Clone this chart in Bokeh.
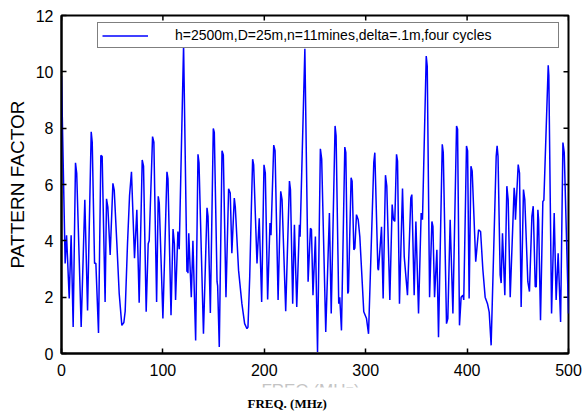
import math

from bokeh.plotting import figure
from bokeh.layouts import column
from bokeh.models import (Range1d, FixedTicker, Legend, LegendItem, Title,
                          ColumnDataSource)
from bokeh.core.properties import value
from bokeh.embed import file_html
from bokeh.resources import INLINE

# Pattern factor versus frequency (piecewise samples)
freq_mhz = [
    0, 3.6, 5.0, 7.6, 9.5, 11.5, 13.8, 15.0, 19.4, 23.0, 25.7, 29.3, 30.3, 32.6, 33.9,
    36.5, 38.8, 40.1, 43.0, 44.4, 45.7, 48.0, 50.7, 52.0, 54.6, 56.9, 59.5, 61.5, 62.8,
    65.1, 67.1, 69.0, 72.0, 74.3, 76.6, 79.6, 80.9, 83.5, 85.5, 86.5, 89.8, 91.1, 93.8,
    95.4, 96.4, 100.0, 104.0, 105.0, 108.0, 110.0, 111.3, 112.5, 114.8, 116.1, 120.4,
    123.7, 124.4, 124.7, 125.5, 128.0, 129.6, 132.3, 134.6, 135.6, 140.0, 143.5, 144.5,
    146.8, 149.7, 150.7, 153.4, 154.0, 155.6, 158.3, 159.6, 162.2, 164.8, 166.4, 168.0,
    170.4, 171.4, 174.6, 177.9, 180.6, 182.9, 183.9, 185.6, 187.2, 188.5, 189.5, 192.8,
    195.0, 197.4, 199.7, 201.0, 203.3, 205.6, 206.6, 209.3, 210.6, 213.6, 216.2, 217.5,
    221.1, 224.8, 225.8, 228.0, 229.7, 232.0, 234.6, 235.3, 240.0, 243.2, 245.5, 246.5,
    248.0, 250.4, 252.5, 255.3, 256.6, 260.6, 264.2, 266.0, 269.8, 270.8, 273.4, 274.4,
    276.1, 279.4, 280.4, 282.3, 283.0, 285.6, 286.6, 288.3, 289.3, 290.9, 292.6, 294.2,
    298.1, 300.8, 302.8, 308.0, 309.0, 312.0, 312.6, 315.6, 317.2, 319.5, 320.8, 323.8,
    326.1, 327.4, 328.7, 330.4, 331.4, 333.3, 336.3, 338.0, 341.2, 344.5, 345.5, 347.8,
    349.5, 352.1, 354.7, 356.0, 359.7, 360.7, 363.0, 365.3, 366.3, 367.9, 370.2, 371.8,
    375.5, 376.5, 379.7, 381.0, 383.3, 386.0, 389.6, 390.6, 392.5, 394.1, 395.8, 396.7,
    399.4, 400.5, 402.0, 403.8, 405.0, 408.5, 411.3, 413.3, 415.5, 417.8, 420.1, 421.8,
    423.7, 428.7, 429.6, 430.5, 432.6, 433.6, 434.9, 437.2, 439.2, 440.5, 442.5, 446.4,
    447.1, 447.7, 450.4, 451.7, 453.3, 455.6, 456.9, 459.9, 461.5, 463.9, 465.2, 467.2,
    468.2, 469.8, 470.5, 472.4, 474.7, 475.7, 480.0, 480.6, 483.3, 485.9, 487.8, 489.8,
    492.2, 494.5, 495.8, 500.0,
]
pattern_factor = [
    9.85, 3.2, 4.2, 1.95, 4.2, 0.94, 6.77, 6.4, 0.94, 5.46, 1.53, 7.87, 7.5, 3.2, 3.2,
    0.73, 7.03, 7.0, 1.83, 5.49, 5.2, 3.5, 6.04, 5.8, 3.9, 2.13, 1.0, 1.1, 1.5,
    3.9, 5.6, 6.45, 3.38, 5.1, 1.8, 6.87, 6.65, 1.48, 3.9, 4.0, 7.7, 7.5, 1.83,
    5.58, 5.35, 1.24, 6.45, 6.2, 1.36, 4.42, 3.9, 1.9, 4.33, 3.7, 10.95,
    2.9, 3.2, 2.85, 4.27, 2.0, 4.0, 0.46, 7.07, 6.77, 0.7, 5.17, 4.87,
    1.44, 7.99, 7.85, 2.55, 2.4, 0.23, 7.2, 7.05, 2.0, 5.85, 5.7, 3.56,
    5.52, 5.2, 2.96, 1.77, 1.06, 0.88, 0.94, 2.7, 5.1, 6.9, 6.7, 3.2,
    4.8, 1.83, 6.7, 6.4, 1.92, 4.63, 4.2, 7.4, 7.2, 1.9, 5.76, 5.46,
    1.5, 6.12, 5.82, 1.77, 4.57, 1.65, 4.57, 4.15, 10.82, 2.55, 4.45, 4.4,
    2.07, 4.15, 0.05, 7.27, 6.9, 0.76, 4.99, 1.42, 8.08, 7.73, 1.77, 2.0,
    0.82, 7.33, 7.13, 2.13, 2.2, 6.24, 6.12, 3.68, 3.74, 4.93, 4.75, 4.15,
    1.48, 1.24, 0.7, 6.8, 7.13, 3.02, 2.96, 4.5, 1.95, 6.33, 5.94, 1.9,
    5.29, 4.75, 4.69, 7.07, 6.83, 1.77, 5.86, 3.44, 2.07, 5.52, 5.64, 2.07,
    4.69, 1.42, 4.99, 4.75, 10.56, 10.2, 2.0, 4.69, 4.51, 2.0, 3.68, 0.58,
    7.43, 7.13, 1.06, 1.24, 4.75, 1.42, 8.08, 7.96, 1.0, 2.0, 2.07, 1.9,
    7.37, 7.19, 1.95, 6.65, 6.48, 3.26, 4.39, 4.33, 3.0, 2.0, 1.77, 1.47,
    0.29, 7.0, 7.37, 7.0, 2.79, 2.5, 4.27, 2.07, 5.94, 5.46, 2.0, 5.88,
    5.58, 4.75, 6.71, 6.4, 1.65, 5.82, 5.46, 2.55, 2.2, 4.87, 5.23, 2.37,
    2.37, 5.1, 4.75, 1.18, 5.4, 5.44, 10.23, 9.87, 1.42, 4.99, 1.9, 3.56,
    1.12, 7.49, 7.13, 1.42,
]

x_ticks = [0, 100, 200, 300, 400, 500]
y_ticks = [0, 2, 4, 6, 8, 10, 12]
series_label = "h=2500m,D=25m,n=11mines,delta=.1m,four cycles"
y_title = "PATTERN FACTOR"
x_title_faint = "FREQ (MHz)"
x_caption = "FREQ. (MHz)"

SANS = "Liberation Sans"
SERIF = "Liberation Serif"
X_MIN, X_MAX = 0, 500
Y_MIN, Y_MAX = 0, 12

# ---- main plot -------------------------------------------------------------
p = figure(width=584, height=380,
           x_range=Range1d(X_MIN, X_MAX), y_range=Range1d(Y_MIN, Y_MAX),
           output_backend="svg", toolbar_location=None,
           min_border_left=61, min_border_right=16,
           min_border_top=15, min_border_bottom=27)
p.background_fill_color = "white"
p.border_fill_color = "white"
p.outline_line_color = "black"
p.outline_line_width = 2
p.xgrid.visible = False
p.ygrid.visible = False

xa = p.xaxis[0]
xa.ticker = FixedTicker(ticks=x_ticks)
ya = p.yaxis[0]
ya.ticker = FixedTicker(ticks=y_ticks)
for ax in (xa, ya):
    ax.axis_line_width = 2
    ax.major_tick_in = 5
    ax.major_tick_out = 0
    ax.major_tick_line_width = 1.5
    ax.minor_tick_line_color = None
    ax.major_label_text_font = SANS
    ax.major_label_text_font_size = "16px"
    ax.major_label_text_color = "black"
xa.major_label_standoff = 10
ya.major_label_standoff = 8
ya.axis_label = y_title
ya.axis_label_text_font = SANS
ya.axis_label_text_font_size = "19px"
ya.axis_label_text_font_style = "normal"
ya.axis_label_text_color = "black"
ya.axis_label_standoff = 5

# inward tick marks along the top and right edges of the box
p.scatter(x=x_ticks, y=[Y_MAX] * len(x_ticks), marker="dash", size=10,
          angle=math.pi / 2, line_color="black", line_width=1.5)
p.scatter(x=[X_MAX] * len(y_ticks), y=y_ticks, marker="dash", size=10,
          line_color="black", line_width=1.5)

src = ColumnDataSource(data=dict(f=freq_mhz, pf=pattern_factor))
line = p.line("f", "pf", source=src, line_color="#0000ff", line_width=1.5)

legend = Legend(items=[LegendItem(label=series_label, renderers=[line])],
                location=(36, 305),
                padding=4, spacing=0, margin=0,
                glyph_width=46, glyph_height=13,
                label_standoff=27, label_width=379, label_height=13,
                label_text_font=SANS, label_text_font_size="14px",
                label_text_color="black",
                border_line_color="black", border_line_width=1.5,
                background_fill_color="white", background_fill_alpha=1.0)
p.add_layout(legend, "center")

# ---- strip under the plot: clipped faint title and the bold caption --------
# its frame lines up with the plot frame above (61 px .. 568 px)
s = figure(width=584, height=36,
           x_range=Range1d(0, 507), y_range=Range1d(7, 0),
           output_backend="svg", toolbar_location=None,
           min_border_left=61, min_border_right=16,
           min_border_top=0, min_border_bottom=29)
s.axis.visible = False
s.xgrid.visible = False
s.ygrid.visible = False
s.outline_line_color = None
s.background_fill_color = "white"
s.border_fill_color = "white"
s.text(x=[249], y=[0], text=[x_title_faint], text_font=value(SANS),
       text_font_size="17px", text_color="#c4c4c4",
       text_align="center", text_baseline="top")
s.add_layout(Title(text=x_caption, text_font=SERIF, text_font_size="13px",
                   text_font_style="bold", text_color="black",
                   align="left", offset=186, standoff=12), "below")

layout = column(p, s, spacing=0)
open("out.html", "w").write(file_html(layout, INLINE))
